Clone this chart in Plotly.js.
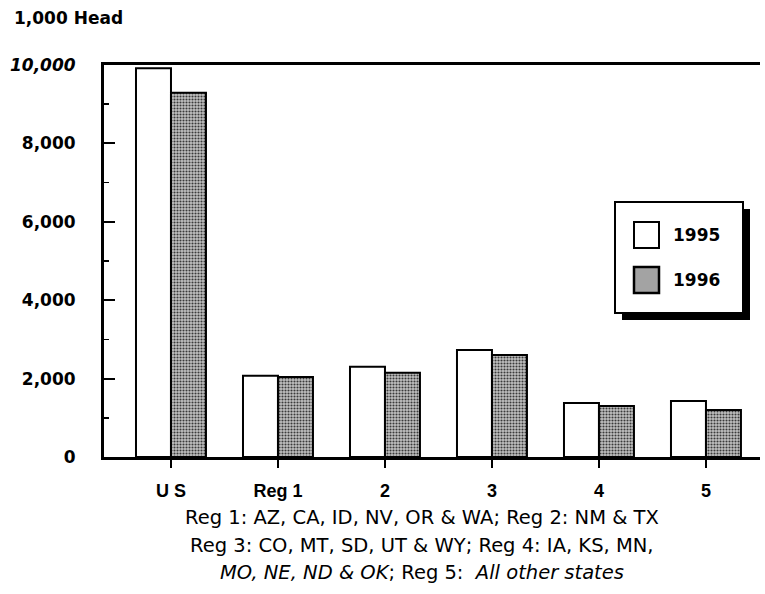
<!DOCTYPE html>
<html>
<head>
<meta charset="utf-8">
<script src="https://cdn.plot.ly/plotly-3.0.1.min.js"></script>
<style>
  html, body { margin: 0; padding: 0; background: #ffffff; }
  #chart { width: 765px; height: 594px; }
</style>
</head>
<body>
<div id="chart"></div>
<script>
// ---- data ----
const categories = ['U S', 'Reg 1', '2', '3', '4', '5'];
const seriesNames = ['1995', '1996'];
const values1995 = [9920, 2070, 2300, 2730, 1380, 1430];
const values1996 = [9290, 2040, 2150, 2600, 1300, 1200];
const yTickVals = [0, 2000, 4000, 6000, 8000, 10000];
const yTickText = ['0', '2,000', '4,000', '6,000', '8,000', '<i>10,000</i>'];
const unitLabel = '1,000 Head';
const footnoteLines = [
  'Reg 1: AZ, CA, ID, NV, OR &amp; WA; Reg 2: NM &amp; TX',
  'Reg 3: CO, MT, SD, UT &amp; WY; Reg 4: IA, KS, MN,',
  '<i>MO, NE, ND &amp; OK</i>; Reg 5:  <i>All other states</i>'
];

// ---- layout geometry (pixels) ----
const W = 765, H = 594;
const L = 104, R = 5, T = 65, B = 137;
const plotW = W - L - R, plotH = H - T - B;
const px = v => (v - L) / plotW;        // pixel x -> paper x
const py = v => (H - B - v) / plotH;    // pixel y -> paper y

const gray = '#a3a3a3';
const labelFont = { family: 'DejaVu Sans, sans-serif', size: 17, color: '#000' };

const traces = [
  {
    type: 'bar', name: seriesNames[0], x: categories, y: values1995,
    marker: { color: '#ffffff', line: { color: '#000', width: 2 } },
    hoverinfo: 'skip'
  },
  {
    type: 'bar', name: seriesNames[1], x: categories, y: values1996,
    marker: {
      color: '#b0b0b0', line: { color: '#000', width: 2 },
      pattern: { shape: '.', fgcolor: '#3a3a3a', bgcolor: '#c2c2c2', size: 3, solidity: 0.4 }
    },
    hoverinfo: 'skip'
  }
];

const shapes = [
  // legend shadow
  { type: 'rect', xref: 'paper', yref: 'paper', x0: px(622), x1: px(750), y0: py(320), y1: py(209),
    fillcolor: '#000', line: { width: 0 } },
  // legend box
  { type: 'rect', xref: 'paper', yref: 'paper', x0: px(615), x1: px(743), y0: py(313), y1: py(202),
    fillcolor: '#fff', line: { color: '#000', width: 2 } },
  // swatches
  { type: 'rect', xref: 'paper', yref: 'paper', x0: px(634), x1: px(659), y0: py(248), y1: py(222),
    fillcolor: '#fff', line: { color: '#000', width: 2 } },
  { type: 'rect', xref: 'paper', yref: 'paper', x0: px(634), x1: px(659), y0: py(293), y1: py(267),
    fillcolor: gray, line: { color: '#000', width: 2.5 } }
];

const annotations = [
  { text: '<b>' + unitLabel + '</b>', xref: 'paper', yref: 'paper', x: px(12), y: py(18),
    xanchor: 'left', yanchor: 'middle', showarrow: false, font: labelFont },
  { text: '<b>' + seriesNames[0] + '</b>', xref: 'paper', yref: 'paper', x: px(671), y: py(235),
    xanchor: 'left', yanchor: 'middle', showarrow: false, font: labelFont },
  { text: '<b>' + seriesNames[1] + '</b>', xref: 'paper', yref: 'paper', x: px(671), y: py(280),
    xanchor: 'left', yanchor: 'middle', showarrow: false, font: labelFont }
];
const footY = [517, 545, 572];
footnoteLines.forEach((t, i) => {
  annotations.push({ text: t, xref: 'paper', yref: 'paper', x: px(422), y: py(footY[i]),
    xanchor: 'center', yanchor: 'middle', showarrow: false,
    font: { family: 'DejaVu Sans, sans-serif', size: 19.5, color: '#000' } });
});

const layout = {
  width: W, height: H,
  margin: { l: L, r: R, t: T, b: B, pad: 0 },
  paper_bgcolor: '#fff', plot_bgcolor: '#fff',
  showlegend: false,
  barmode: 'group', bargap: 0.346, bargroupgap: 0,
  font: labelFont,
  xaxis: {
    type: 'category', range: [-0.626, 5.505],
    showline: true, linecolor: '#000', linewidth: 3, mirror: true,
    ticks: 'outside', ticklen: 8, tickwidth: 2, tickcolor: '#000',
    showgrid: false, zeroline: false,
    tickfont: { family: 'Liberation Sans, Arial, sans-serif', size: 18, color: '#000', weight: 'bold' },
    ticklabelstandoff: 7
  },
  yaxis: {
    range: [0, 10000], tickvals: yTickVals, ticktext: yTickText,
    showline: true, linecolor: '#000', linewidth: 3,
    ticks: 'inside', ticklen: 11, tickwidth: 2, tickcolor: '#000',
    minor: { ticks: 'inside', ticklen: 5, tickwidth: 1.5, tickcolor: '#000', dtick: 1000, showgrid: false },
    showgrid: false, zeroline: false,
    tickfont: { family: 'DejaVu Sans, sans-serif', size: 17, color: '#000', weight: 'bold' },
    ticklabelstandoff: 22
  },
  shapes: shapes,
  annotations: annotations
};

Plotly.newPlot('chart', traces, layout, { staticPlot: true, displayModeBar: false });
</script>
</body>
</html>
